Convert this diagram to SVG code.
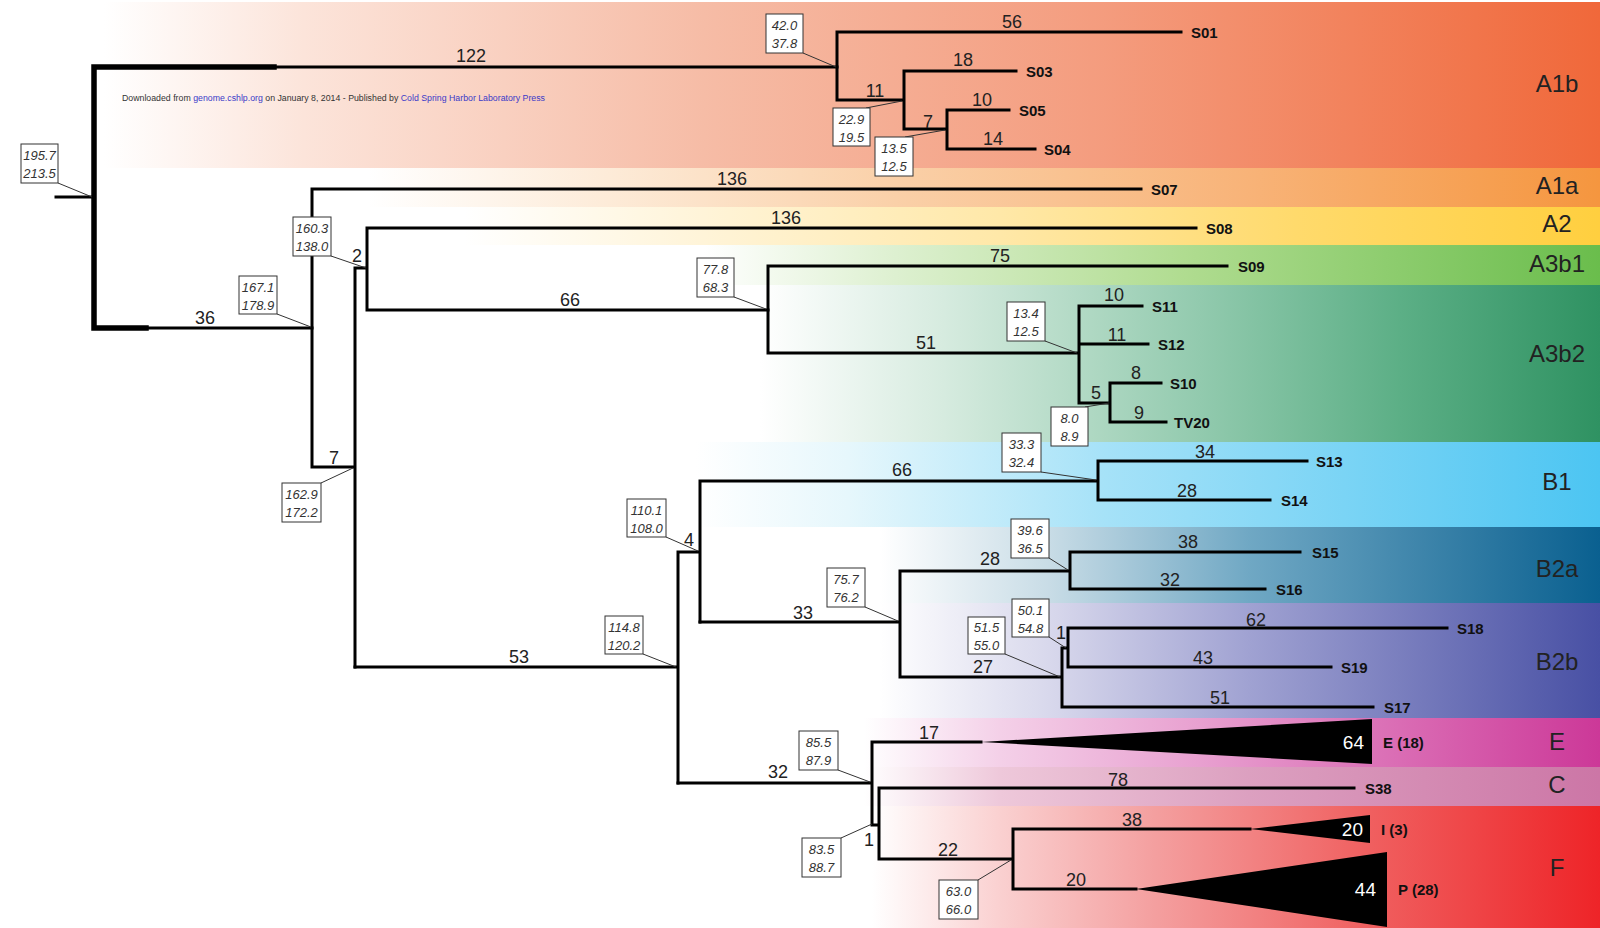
<svg xmlns="http://www.w3.org/2000/svg" width="1600" height="928" viewBox="0 0 1600 928">
<defs>
<linearGradient id="gA1b" gradientUnits="userSpaceOnUse" x1="0" y1="0" x2="1600" y2="0">
<stop offset="0.065" stop-color="#FFFFFF"/><stop offset="0.19" stop-color="#FCE4DA"/><stop offset="0.44" stop-color="#F6BCA6"/><stop offset="0.69" stop-color="#F49C7E"/><stop offset="1" stop-color="#F0683A"/></linearGradient>
<linearGradient id="gA1a" gradientUnits="userSpaceOnUse" x1="0" y1="0" x2="1600" y2="0">
<stop offset="0.23" stop-color="#FFFFFF"/><stop offset="0.38" stop-color="#FDEBD8"/><stop offset="0.56" stop-color="#FAD0A8"/><stop offset="0.78" stop-color="#F8B378"/><stop offset="1" stop-color="#F5963F"/></linearGradient>
<linearGradient id="gA2" gradientUnits="userSpaceOnUse" x1="0" y1="0" x2="1600" y2="0">
<stop offset="0.29" stop-color="#FFFFFF"/><stop offset="0.44" stop-color="#FFF4D8"/><stop offset="0.625" stop-color="#FFE8A8"/><stop offset="0.81" stop-color="#FFDA6C"/><stop offset="1" stop-color="#FFCF3F"/></linearGradient>
<linearGradient id="gA3b1" gradientUnits="userSpaceOnUse" x1="0" y1="0" x2="1600" y2="0">
<stop offset="0.44" stop-color="#FFFFFF"/><stop offset="0.56" stop-color="#DDF0D0"/><stop offset="0.74" stop-color="#B0DC90"/><stop offset="1" stop-color="#6ABD4C"/></linearGradient>
<linearGradient id="gA3b2" gradientUnits="userSpaceOnUse" x1="0" y1="0" x2="1600" y2="0">
<stop offset="0.475" stop-color="#FFFFFF"/><stop offset="0.59" stop-color="#D6EBDF"/><stop offset="0.75" stop-color="#92CAAE"/><stop offset="0.875" stop-color="#5CAF86"/><stop offset="1" stop-color="#2F9262"/></linearGradient>
<linearGradient id="gB1" gradientUnits="userSpaceOnUse" x1="0" y1="0" x2="1600" y2="0">
<stop offset="0.435" stop-color="#FFFFFF"/><stop offset="0.53" stop-color="#E6F7FC"/><stop offset="0.69" stop-color="#A6E2F8"/><stop offset="1" stop-color="#4CC5F2"/></linearGradient>
<linearGradient id="gB2a" gradientUnits="userSpaceOnUse" x1="0" y1="0" x2="1600" y2="0">
<stop offset="0.55" stop-color="#FFFFFF"/><stop offset="0.656" stop-color="#C8DCE6"/><stop offset="0.78" stop-color="#70A8C4"/><stop offset="1" stop-color="#0A6090"/></linearGradient>
<linearGradient id="gB2b" gradientUnits="userSpaceOnUse" x1="0" y1="0" x2="1600" y2="0">
<stop offset="0.55" stop-color="#FFFFFF"/><stop offset="0.656" stop-color="#D8D8EC"/><stop offset="0.78" stop-color="#A0A2D2"/><stop offset="1" stop-color="#4850A4"/></linearGradient>
<linearGradient id="gE" gradientUnits="userSpaceOnUse" x1="0" y1="0" x2="1600" y2="0">
<stop offset="0.54" stop-color="#FFFFFF"/><stop offset="0.625" stop-color="#F4D0E8"/><stop offset="0.75" stop-color="#E8A0D0"/><stop offset="1" stop-color="#CC3898"/></linearGradient>
<linearGradient id="gC" gradientUnits="userSpaceOnUse" x1="0" y1="0" x2="1600" y2="0">
<stop offset="0.54" stop-color="#FFFFFF"/><stop offset="0.625" stop-color="#EEC8DA"/><stop offset="0.78" stop-color="#DCA0C0"/><stop offset="1" stop-color="#CC76A6"/></linearGradient>
<linearGradient id="gF" gradientUnits="userSpaceOnUse" x1="0" y1="0" x2="1600" y2="0">
<stop offset="0.545" stop-color="#FFFFFF"/><stop offset="0.625" stop-color="#FAD0D0"/><stop offset="0.72" stop-color="#F4A0A0"/><stop offset="0.845" stop-color="#F06464"/><stop offset="1" stop-color="#EE2428"/></linearGradient>
<style>
.br{fill:none;stroke:#000;stroke-width:3;stroke-linecap:square}
.thick{fill:none;stroke:#000;stroke-width:5.5;stroke-linecap:square}
.lead{fill:none;stroke:#333;stroke-width:1}
.bl{font-family:"Liberation Sans",Arial,sans-serif;font-size:18px;fill:#222;text-anchor:middle}
.box rect{fill:#fff;stroke:#333;stroke-width:1}
.box text{font-family:"Liberation Sans",Arial,sans-serif;font-size:13px;font-style:italic;fill:#333;text-anchor:middle}
.tip{font-family:"Liberation Sans",Arial,sans-serif;font-size:15px;font-weight:bold;fill:#111}
.tri{fill:#000}
.tn{font-family:"Liberation Sans",Arial,sans-serif;font-size:19px;fill:#fff;text-anchor:end}
.clade{font-family:"Liberation Sans",Arial,sans-serif;font-size:24px;fill:#222;text-anchor:middle}
.wm{font-family:"Liberation Sans",Arial,sans-serif;font-size:8.5px;fill:#333}
.lnk{fill:#3a3ac8}
</style>
</defs>
<rect width="1600" height="928" fill="#fff"/>
<g id="bands">
<rect x="0" y="2" width="1600" height="166" fill="url(#gA1b)"/>
<rect x="0" y="168" width="1600" height="39" fill="url(#gA1a)"/>
<rect x="0" y="207" width="1600" height="38" fill="url(#gA2)"/>
<rect x="0" y="245" width="1600" height="40" fill="url(#gA3b1)"/>
<rect x="0" y="285" width="1600" height="157" fill="url(#gA3b2)"/>
<rect x="0" y="442" width="1600" height="85" fill="url(#gB1)"/>
<rect x="0" y="527" width="1600" height="76" fill="url(#gB2a)"/>
<rect x="0" y="603" width="1600" height="115" fill="url(#gB2b)"/>
<rect x="0" y="718" width="1600" height="49" fill="url(#gE)"/>
<rect x="0" y="767" width="1600" height="39" fill="url(#gC)"/>
<rect x="0" y="806" width="1600" height="122" fill="url(#gF)"/>
</g>
<text id="watermark" class="wm" x="122" y="101" textLength="423" lengthAdjust="spacingAndGlyphs">Downloaded from <tspan class="lnk">genome.cshlp.org</tspan> on January 8, 2014 - Published by <tspan class="lnk">Cold Spring Harbor Laboratory Press</tspan></text>
<g id="connectors">
<path class="br" d="M56,197 H94"/>
<path class="thick" d="M274,67 H94 V328 H146"/>
<path class="br" d="M274,67 H837 M146,328 H312"/>
<path class="br" d="M837,32 V100 M837,32 H1181 M837,100 H904 M904,71 V129 M904,71 H1016 M904,129 H947 M947,110 V149 M947,110 H1009 M947,149 H1035"/>
<path class="br" d="M312,189 V467 M312,189 H1141 M312,467 H355 M355,268 V667 M355,268 H367 M367,228 V310 M367,228 H1196 M367,310 H768"/>
<path class="br" d="M768,266 V353 M768,266 H1227 M768,353 H1079 M1079,306 V403 M1079,306 H1142 M1079,344 H1148 M1079,403 H1110 M1110,383 V422 M1110,383 H1161 M1110,422 H1166"/>
<path class="br" d="M355,667 H678 M678,552 V783 M678,552 H700 M700,481 V622 M700,481 H1098 M1098,461 V500 M1098,461 H1307 M1098,500 H1270"/>
<path class="br" d="M700,622 H900 M900,571 V677 M900,571 H1070 M1070,552 V589 M1070,552 H1300 M1070,589 H1265 M900,677 H1062 M1062,648 V707 M1062,648 H1068 M1068,628 V667 M1068,628 H1447 M1068,667 H1331 M1062,707 H1373"/>
<path class="br" d="M678,783 H872 M872,742 V825 M872,742 H981 M872,825 H879 M879,788 V859 M879,788 H1354 M879,859 H1013 M1013,829 V889 M1013,829 H1250 M1013,889 H1136"/>
<g id="branch-lengths">
<text class="bl" x="471" y="62">122</text>
<text class="bl" x="1012" y="28">56</text>
<text class="bl" x="875" y="97">11</text>
<text class="bl" x="963" y="66">18</text>
<text class="bl" x="928" y="128">7</text>
<text class="bl" x="982" y="106">10</text>
<text class="bl" x="993" y="145">14</text>
<text class="bl" x="205" y="324">36</text>
<text class="bl" x="732" y="185">136</text>
<text class="bl" x="786" y="224">136</text>
<text class="bl" x="357" y="262">2</text>
<text class="bl" x="334" y="464">7</text>
<text class="bl" x="570" y="306">66</text>
<text class="bl" x="1000" y="262">75</text>
<text class="bl" x="926" y="349">51</text>
<text class="bl" x="1114" y="301">10</text>
<text class="bl" x="1117" y="341">11</text>
<text class="bl" x="1096" y="399">5</text>
<text class="bl" x="1136" y="379">8</text>
<text class="bl" x="1139" y="419">9</text>
<text class="bl" x="519" y="663">53</text>
<text class="bl" x="689" y="546">4</text>
<text class="bl" x="902" y="476">66</text>
<text class="bl" x="1205" y="458">34</text>
<text class="bl" x="1187" y="497">28</text>
<text class="bl" x="803" y="619">33</text>
<text class="bl" x="990" y="565">28</text>
<text class="bl" x="1188" y="548">38</text>
<text class="bl" x="1170" y="586">32</text>
<text class="bl" x="983" y="673">27</text>
<text class="bl" x="1061" y="639">1</text>
<text class="bl" x="1256" y="626">62</text>
<text class="bl" x="1203" y="664">43</text>
<text class="bl" x="1220" y="704">51</text>
<text class="bl" x="778" y="778">32</text>
<text class="bl" x="929" y="739">17</text>
<text class="bl" x="1118" y="786">78</text>
<text class="bl" x="869" y="846">1</text>
<text class="bl" x="948" y="856">22</text>
<text class="bl" x="1132" y="826">38</text>
<text class="bl" x="1076" y="886">20</text>
</g>
</g>
<g id="node-root" class="box"><path class="lead" d="M58,183 L92,197"/><rect x="21" y="144" width="37" height="39"/><text x="39.5" y="160">195.7</text><text x="39.5" y="178">213.5</text></g>
<g id="node-a1b" class="box"><path class="lead" d="M803,53 L836,67"/><rect x="766" y="14" width="37" height="39"/><text x="784.5" y="30">42.0</text><text x="784.5" y="48">37.8</text></g>
<g id="node-a1b-2" class="box"><path class="lead" d="M866,108 L902,101"/><rect x="833" y="108" width="37" height="38"/><text x="851.5" y="124">22.9</text><text x="851.5" y="142">19.5</text></g>
<g id="node-a1b-3" class="box"><path class="lead" d="M905,137 L945,130"/><rect x="875" y="137" width="38" height="39"/><text x="894" y="153">13.5</text><text x="894" y="171">12.5</text></g>
<g id="node-a1a" class="box"><path class="lead" d="M331,256 L366,268"/><rect x="293" y="217" width="38" height="39"/><text x="312" y="233">160.3</text><text x="312" y="251">138.0</text></g>
<g id="node-a" class="box"><path class="lead" d="M277,314 L311,327"/><rect x="239" y="276" width="38" height="38"/><text x="258" y="292">167.1</text><text x="258" y="310">178.9</text></g>
<g id="node-7" class="box"><path class="lead" d="M321,483 L353,468"/><rect x="282" y="483" width="39" height="39"/><text x="301.5" y="499">162.9</text><text x="301.5" y="517">172.2</text></g>
<g id="node-a3" class="box"><path class="lead" d="M734,297 L766,309"/><rect x="697" y="258" width="37" height="39"/><text x="715.5" y="274">77.8</text><text x="715.5" y="292">68.3</text></g>
<g id="node-a3b2" class="box"><path class="lead" d="M1045,341 L1077,353"/><rect x="1007" y="302" width="38" height="39"/><text x="1026" y="318">13.4</text><text x="1026" y="336">12.5</text></g>
<g id="node-a3b2-2" class="box"><path class="lead" d="M1085,407 L1109,403"/><rect x="1051" y="407" width="37" height="39"/><text x="1069.5" y="423">8.0</text><text x="1069.5" y="441">8.9</text></g>
<g id="node-b1" class="box"><path class="lead" d="M1041,472 L1096,480"/><rect x="1002" y="433" width="39" height="39"/><text x="1021.5" y="449">33.3</text><text x="1021.5" y="467">32.4</text></g>
<g id="node-b" class="box"><path class="lead" d="M666,537 L698,551"/><rect x="627" y="499" width="39" height="38"/><text x="646.5" y="515">110.1</text><text x="646.5" y="533">108.0</text></g>
<g id="node-bef" class="box"><path class="lead" d="M643,654 L676,667"/><rect x="605" y="616" width="38" height="38"/><text x="624" y="632">114.8</text><text x="624" y="650">120.2</text></g>
<g id="node-b2" class="box"><path class="lead" d="M865,607 L898,621"/><rect x="827" y="568" width="38" height="39"/><text x="846" y="584">75.7</text><text x="846" y="602">76.2</text></g>
<g id="node-b2a" class="box"><path class="lead" d="M1049,558 L1068,570"/><rect x="1011" y="519" width="38" height="39"/><text x="1030" y="535">39.6</text><text x="1030" y="553">36.5</text></g>
<g id="node-b2b-2" class="box"><path class="lead" d="M1049,637 L1066,648"/><rect x="1012" y="599" width="37" height="38"/><text x="1030.5" y="615">50.1</text><text x="1030.5" y="633">54.8</text></g>
<g id="node-b2b" class="box"><path class="lead" d="M1005,654 L1060,677"/><rect x="968" y="617" width="37" height="37"/><text x="986.5" y="632">51.5</text><text x="986.5" y="650">55.0</text></g>
<g id="node-ecf" class="box"><path class="lead" d="M838,770 L870,782"/><rect x="799" y="731" width="39" height="39"/><text x="818.5" y="747">85.5</text><text x="818.5" y="765">87.9</text></g>
<g id="node-cf" class="box"><path class="lead" d="M841,838 L872,824"/><rect x="802" y="838" width="39" height="39"/><text x="821.5" y="854">83.5</text><text x="821.5" y="872">88.7</text></g>
<g id="node-f" class="box"><path class="lead" d="M978,880 L1011,860"/><rect x="939" y="880" width="39" height="39"/><text x="958.5" y="896">63.0</text><text x="958.5" y="914">66.0</text></g>
<g id="tip-S01"><text class="tip" x="1191" y="37.5">S01</text></g>
<g id="tip-S03"><text class="tip" x="1026" y="76.5">S03</text></g>
<g id="tip-S05"><text class="tip" x="1019" y="115.5">S05</text></g>
<g id="tip-S04"><text class="tip" x="1044" y="154.5">S04</text></g>
<g id="tip-S07"><text class="tip" x="1151" y="194.5">S07</text></g>
<g id="tip-S08"><text class="tip" x="1206" y="233.5">S08</text></g>
<g id="tip-S09"><text class="tip" x="1238" y="271.5">S09</text></g>
<g id="tip-S11"><text class="tip" x="1152" y="311.5">S11</text></g>
<g id="tip-S12"><text class="tip" x="1158" y="349.5">S12</text></g>
<g id="tip-S10"><text class="tip" x="1170" y="388.5">S10</text></g>
<g id="tip-TV20"><text class="tip" x="1174" y="427.5">TV20</text></g>
<g id="tip-S13"><text class="tip" x="1316" y="466.5">S13</text></g>
<g id="tip-S14"><text class="tip" x="1281" y="505.5">S14</text></g>
<g id="tip-S15"><text class="tip" x="1312" y="557.5">S15</text></g>
<g id="tip-S16"><text class="tip" x="1276" y="594.5">S16</text></g>
<g id="tip-S18"><text class="tip" x="1457" y="633.5">S18</text></g>
<g id="tip-S19"><text class="tip" x="1341" y="672.5">S19</text></g>
<g id="tip-S17"><text class="tip" x="1384" y="712.5">S17</text></g>
<g id="tip-S38"><text class="tip" x="1365" y="793.5">S38</text></g>
<g id="clade-E"><polygon class="tri" points="981,742 1372,719 1372,764"/><text class="tn" x="1364" y="749">64</text><text class="tip" x="1383" y="747.5">E (18)</text></g>
<g id="clade-I"><polygon class="tri" points="1250,829 1370,815 1370,843"/><text class="tn" x="1363" y="836">20</text><text class="tip" x="1381" y="834.5">I (3)</text></g>
<g id="clade-P"><polygon class="tri" points="1136,889 1387,852 1387,927"/><text class="tn" x="1376" y="896">44</text><text class="tip" x="1398" y="894.5">P (28)</text></g>
<g id="clade-labels">
<text class="clade" x="1557" y="92">A1b</text>
<text class="clade" x="1557" y="194">A1a</text>
<text class="clade" x="1557" y="232">A2</text>
<text class="clade" x="1557" y="272">A3b1</text>
<text class="clade" x="1557" y="362">A3b2</text>
<text class="clade" x="1557" y="490">B1</text>
<text class="clade" x="1557" y="577">B2a</text>
<text class="clade" x="1557" y="670">B2b</text>
<text class="clade" x="1557" y="750">E</text>
<text class="clade" x="1557" y="793">C</text>
<text class="clade" x="1557" y="876">F</text>
</g>
</svg>
